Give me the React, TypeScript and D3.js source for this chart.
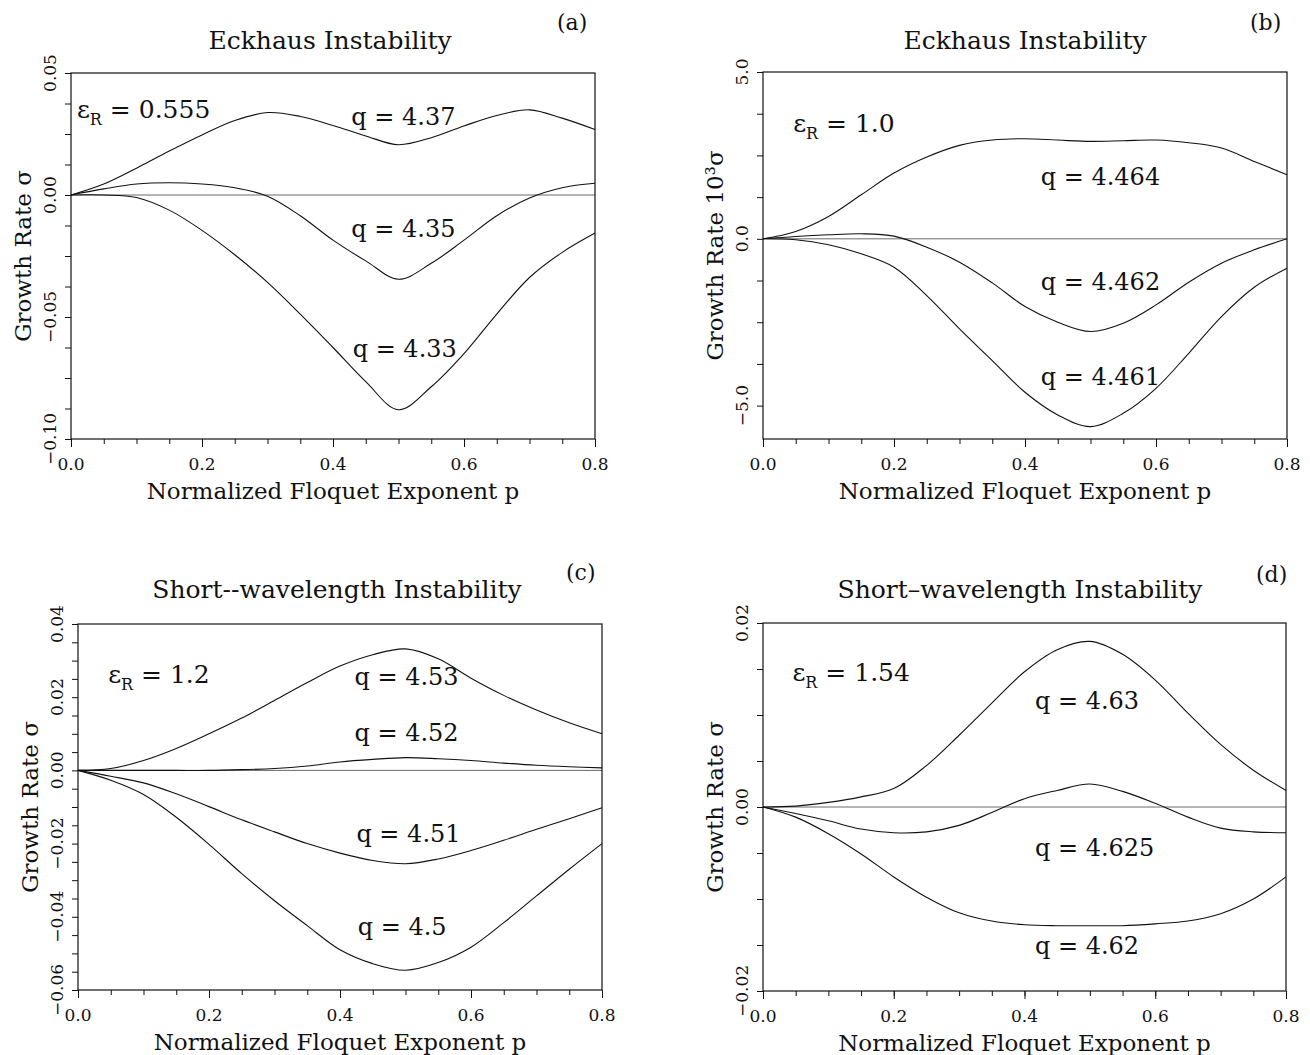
import React, { useEffect, useRef } from 'react';
import * as d3 from 'd3';

// normalized Floquet exponent p, same grid in every panel
const pGrid = [0, 0.05, 0.1, 0.15, 0.2, 0.25, 0.3, 0.35, 0.4, 0.45, 0.5, 0.55, 0.6, 0.65, 0.7, 0.75, 0.8];

// (a) Eckhaus, eps_R = 0.555
const sigmaA437 = [0, 0.0045, 0.011, 0.018, 0.0246, 0.0305, 0.0338, 0.0322, 0.0285, 0.0242, 0.0206, 0.0235, 0.0283, 0.0326, 0.0349, 0.0315, 0.0268];
const sigmaA435 = [0, 0.0025, 0.0045, 0.005, 0.0045, 0.003, -0.0005, -0.0085, -0.0185, -0.027, -0.0345, -0.028, -0.0185, -0.0085, -0.0012, 0.003, 0.0048];
const sigmaA433 = [0, 0, -0.001, -0.0062, -0.0145, -0.0245, -0.0358, -0.0488, -0.0625, -0.0765, -0.088, -0.0786, -0.065, -0.0488, -0.0338, -0.0235, -0.0156];

// (b) Eckhaus, eps_R = 1.0 (values are 10^3 sigma)
const sigmaB4464 = [0, 0.22, 0.67, 1.32, 1.97, 2.45, 2.8, 2.96, 3.0, 2.96, 2.92, 2.94, 2.96, 2.88, 2.72, 2.32, 1.92];
const sigmaB4462 = [0, 0.07, 0.12, 0.15, 0.08, -0.25, -0.7, -1.32, -2.03, -2.5, -2.78, -2.53, -1.98, -1.3, -0.73, -0.33, 0];
const sigmaB4461 = [0, -0.03, -0.18, -0.45, -0.85, -1.7, -2.7, -3.65, -4.6, -5.28, -5.63, -5.23, -4.48, -3.43, -2.33, -1.45, -0.88];

// (c) short-wavelength, eps_R = 1.2
const sigmaC453 = [0, 0.0005, 0.0027, 0.006, 0.01, 0.0143, 0.0191, 0.024, 0.0285, 0.0316, 0.0332, 0.0305, 0.0252, 0.0205, 0.0165, 0.013, 0.01];
const sigmaC452 = [0, 0, 0, 0, 0, 0.0002, 0.0005, 0.0012, 0.0023, 0.003, 0.0035, 0.0032, 0.0027, 0.002, 0.0014, 0.001, 0.0007];
const sigmaC451 = [0, -0.0016, -0.0034, -0.0064, -0.0099, -0.0135, -0.0168, -0.02, -0.0226, -0.0246, -0.0255, -0.0242, -0.0219, -0.0191, -0.0161, -0.0132, -0.0102];
const sigmaC450 = [0, -0.0027, -0.0066, -0.0128, -0.0202, -0.0282, -0.0356, -0.0424, -0.049, -0.0528, -0.0546, -0.0525, -0.0483, -0.0416, -0.0343, -0.027, -0.02];

// (d) short-wavelength, eps_R = 1.54
const sigmaD463 = [0, 0.0001, 0.0005, 0.0011, 0.002, 0.0045, 0.0078, 0.0113, 0.0147, 0.0171, 0.018, 0.0166, 0.0138, 0.0102, 0.0068, 0.004, 0.0018];
const sigmaD4625 = [0, -0.0007, -0.0015, -0.0024, -0.0028, -0.0027, -0.002, -0.0006, 0.0009, 0.0018, 0.0025, 0.0017, 0.0004, -0.0011, -0.0023, -0.0027, -0.0028];
const sigmaD462 = [0, -0.0011, -0.0029, -0.0051, -0.0076, -0.0098, -0.0115, -0.0124, -0.0128, -0.0129, -0.0129, -0.0129, -0.0127, -0.0124, -0.0116, -0.01, -0.0076];

const xTickValues = [0, 0.2, 0.4, 0.6, 0.8];
const xTickLabels = ['0.0', '0.2', '0.4', '0.6', '0.8'];
const yTicksA = [0.05, 0, -0.05, -0.1];
const yTicksB = [5, 0, -5];
const yTicksC = [0.04, 0.02, 0, -0.02, -0.04, -0.06];
const yTicksD = [0.02, 0, -0.02];

const FONT = 'DejaVu Serif';

const panels = [
  {
    title: 'Eckhaus Instability', tag: '(a)', titleX: 330, titleY: 49, tagX: 557, tagY: 30,
    box: { left: 71, right: 595, top: 73, bottom: 439 },
    yDomain: [-0.1, 0.05], yStep: 0.0125, yTicks: yTicksA, yFmt: '.2f',
    yLabel: 'Growth Rate σ', yLabelX: 31,
    eps: { value: '0.555', p: 0.009, s: 0.0314 },
    series: [
      { q: 'q = 4.37', values: sigmaA437, p: 0.428, s: 0.0285 },
      { q: 'q = 4.35', values: sigmaA435, p: 0.428, s: -0.0173 },
      { q: 'q = 4.33', values: sigmaA433, p: 0.43, s: -0.0665 },
    ],
  },
  {
    title: 'Eckhaus Instability', tag: '(b)', titleX: 1025, titleY: 49, tagX: 1250, tagY: 30,
    box: { left: 763, right: 1287, top: 72, bottom: 439 },
    yDomain: [-6, 5], yStep: 1.25, yTicks: yTicksB, yFmt: '.1f',
    yLabel: 'Growth Rate 10³σ', yLabelX: 723,
    eps: { value: '1.0', p: 0.046, s: 3.21 },
    series: [
      { q: 'q = 4.464', values: sigmaB4464, p: 0.424, s: 1.62 },
      { q: 'q = 4.462', values: sigmaB4462, p: 0.424, s: -1.53 },
      { q: 'q = 4.461', values: sigmaB4461, p: 0.424, s: -4.38 },
    ],
  },
  {
    title: 'Short--wavelength Instability', tag: '(c)', titleX: 337, titleY: 598, tagX: 566, tagY: 580,
    box: { left: 78, right: 602, top: 624, bottom: 990 },
    yDomain: [-0.06, 0.04], yStep: 0.005, yTicks: yTicksC, yFmt: '.2f',
    yLabel: 'Growth Rate σ', yLabelX: 38,
    eps: { value: '1.2', p: 0.046, s: 0.0239 },
    series: [
      { q: 'q = 4.53', values: sigmaC453, p: 0.422, s: 0.0233 },
      { q: 'q = 4.52', values: sigmaC452, p: 0.422, s: 0.008 },
      { q: 'q = 4.51', values: sigmaC451, p: 0.425, s: -0.0195 },
      { q: 'q = 4.5', values: sigmaC450, p: 0.427, s: -0.0449 },
    ],
  },
  {
    title: 'Short–wavelength Instability', tag: '(d)', titleX: 1020, titleY: 598, tagX: 1256, tagY: 582,
    box: { left: 763, right: 1286, top: 623, bottom: 991 },
    yDomain: [-0.02, 0.02], yStep: 0.005, yTicks: yTicksD, yFmt: '.2f',
    yLabel: 'Growth Rate σ', yLabelX: 723,
    eps: { value: '1.54', p: 0.045, s: 0.0137 },
    series: [
      { q: 'q = 4.63', values: sigmaD463, p: 0.416, s: 0.0107 },
      { q: 'q = 4.625', values: sigmaD4625, p: 0.416, s: -0.0053 },
      { q: 'q = 4.62', values: sigmaD462, p: 0.416, s: -0.016 },
    ],
  },
];

function drawPanel(svg: any, cfg: any) {
  const { box } = cfg;
  const x = d3.scaleLinear().domain([0, 0.8]).range([box.left, box.right]);
  const y = d3.scaleLinear().domain(cfg.yDomain).range([box.bottom, box.top]);
  const g = svg.append('g').attr('font-family', FONT).attr('fill', '#111');

  // zero reference line
  g.append('line')
    .attr('x1', x(0)).attr('x2', x(0.8))
    .attr('y1', y(0)).attr('y2', y(0))
    .attr('stroke', '#444').attr('stroke-width', 0.8);

  // frame
  g.append('rect')
    .attr('x', box.left).attr('y', box.top)
    .attr('width', box.right - box.left).attr('height', box.bottom - box.top)
    .attr('fill', 'none').attr('stroke', '#111').attr('stroke-width', 1.2);

  // x ticks, minor every 0.05, longer at labels
  const minorX = d3.range(0, 0.8001, 0.05);
  g.append('g')
    .attr('transform', `translate(0,${box.bottom})`)
    .call(d3.axisBottom(x).tickValues(minorX).tickSize(5).tickFormat(() => ''))
    .call((s: any) => s.select('.domain').remove());
  g.append('g')
    .attr('transform', `translate(0,${box.bottom})`)
    .call(d3.axisBottom(x).tickValues(xTickValues).tickSize(8).tickFormat(() => ''))
    .call((s: any) => s.select('.domain').remove());
  g.selectAll('.tick line').attr('stroke', '#111').attr('stroke-width', 1);

  g.selectAll('.xlab')
    .data(xTickValues)
    .enter()
    .append('text')
    .attr('x', (d: number) => x(d))
    .attr('y', box.bottom + 31)
    .attr('text-anchor', 'middle')
    .style('font-size', '17px')
    .text((d: number, i: number) => xTickLabels[i]);

  // y ticks
  const [y0, y1] = cfg.yDomain;
  const minorY = d3.range(Math.ceil(y0 / cfg.yStep - 1e-6), Math.floor(y1 / cfg.yStep + 1e-6) + 1)
    .map((k: number) => k * cfg.yStep);
  const yg = g.append('g')
    .attr('transform', `translate(${box.left},0)`)
    .call(d3.axisLeft(y).tickValues(minorY).tickSize(6).tickFormat(() => ''));
  yg.select('.domain').remove();
  yg.selectAll('.tick line').attr('stroke', '#111').attr('stroke-width', 1);

  const fmt = d3.format(cfg.yFmt);
  g.selectAll('.ylab')
    .data(cfg.yTicks)
    .enter()
    .append('text')
    .attr('transform', (d: number) => `translate(${box.left - 15},${y(d)}) rotate(-90)`)
    .attr('text-anchor', 'middle')
    .style('font-size', '17px')
    .text((d: number) => fmt(d));

  // axis titles
  g.append('text')
    .attr('x', (box.left + box.right) / 2)
    .attr('y', box.bottom + 60)
    .attr('text-anchor', 'middle')
    .style('font-size', '23px')
    .text('Normalized Floquet Exponent p');
  g.append('text')
    .attr('transform', `translate(${cfg.yLabelX},${(box.top + box.bottom) / 2}) rotate(-90)`)
    .attr('text-anchor', 'middle')
    .style('font-size', '23px')
    .text(cfg.yLabel);

  // panel title and tag
  g.append('text')
    .attr('x', cfg.titleX).attr('y', cfg.titleY)
    .attr('text-anchor', 'middle')
    .style('font-size', '25px')
    .text(cfg.title);
  g.append('text')
    .attr('x', cfg.tagX).attr('y', cfg.tagY)
    .style('font-size', '22px')
    .text(cfg.tag);

  // curves
  const line = d3.line<number>()
    .x((d, i) => x(pGrid[i]))
    .y(d => y(d))
    .curve(d3.curveCatmullRom.alpha(0.5));
  cfg.series.forEach((s: any) => {
    g.append('path')
      .attr('d', line(s.values))
      .attr('fill', 'none')
      .attr('stroke', '#111')
      .attr('stroke-width', 1.1);
    g.append('text')
      .attr('x', x(s.p)).attr('y', y(s.s))
      .style('font-size', '24px')
      .text(s.q);
  });

  // epsilon_R annotation
  const eps = g.append('text')
    .attr('x', x(cfg.eps.p)).attr('y', y(cfg.eps.s))
    .style('font-size', '25px');
  eps.append('tspan').text('ε');
  eps.append('tspan').attr('dy', 7).style('font-size', '16px').text('R');
  eps.append('tspan').attr('dy', -7).text(' = ' + cfg.eps.value);
}

export default function App() {
  const ref = useRef<SVGSVGElement>(null);

  useEffect(() => {
    const svg = d3.select(ref.current);
    svg.selectAll('*').remove();
    panels.forEach(p => drawPanel(svg, p));
  }, []);

  return (
    <svg
      ref={ref}
      width={1310}
      height={1055}
      style={{ position: 'absolute', left: 0, top: 0, background: '#fff' }}
    />
  );
}
